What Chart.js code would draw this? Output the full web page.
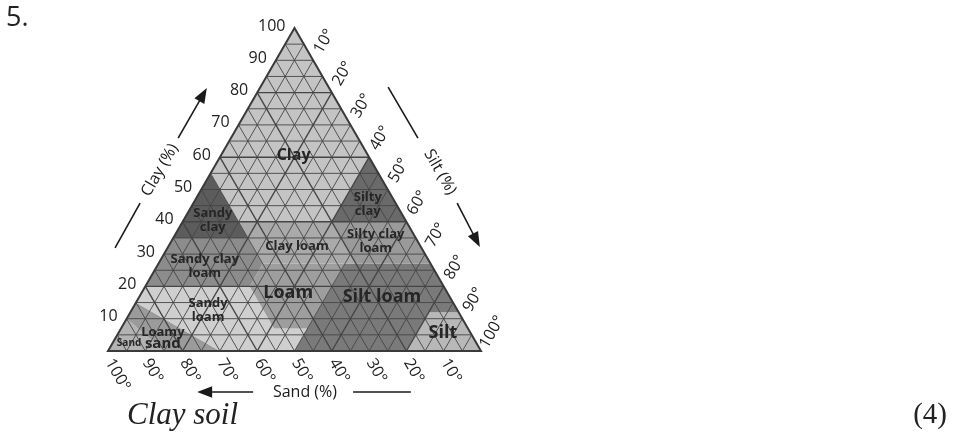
<!DOCTYPE html>
<html>
<head>
<meta charset="utf-8">
<script src="https://cdn.jsdelivr.net/npm/chart.js@4.4.1/dist/chart.umd.min.js"></script>
<style>
  body { margin: 0; background: #fff; }
  #wrap { position: relative; width: 964px; height: 433px; }
  #num { position: absolute; left: 6px; top: 2px; font: 27px/27px "Open Sans", sans-serif; color: #222; }
  #caption { position: absolute; left: 127px; top: 398px; font: italic 31px/31px "Liberation Serif", serif; color: #222; }
  #mark { position: absolute; right: 17px; top: 398px; font: 29px/31px "Liberation Serif", serif; color: #222; }
</style>
</head>
<body>
<div id="wrap">
  <canvas id="soilChart" width="964" height="433"></canvas>
  <div id="num">5.</div>
  <div id="caption">Clay soil</div>
  <div id="mark">(4)</div>
</div>
<script>
// Tick labels on the three sides
const clayTicks = [10, 20, 30, 40, 50, 60, 70, 80, 90, 100];
const siltTicks = [10, 20, 30, 40, 50, 60, 70, 80, 90, 100];
const sandTicks = [100, 90, 80, 70, 60, 50, 40, 30, 20, 10];
const gridSteps = [5, 10, 15, 20, 25, 30, 35, 40, 45, 50, 55, 60, 65, 70, 75, 80, 85, 90, 95];

// Texture classes, corners as [sand, silt, clay] in %
const classNames = ['Clay', 'Sandy clay', 'Silty clay', 'Sandy clay loam', 'Clay loam', 'Silty clay loam',
  'Loam', 'Silt loam', 'Silt', 'Sandy loam', 'Loamy sand', 'Sand'];
const clayArea = [[0, 0, 100], [45, 0, 55], [45, 15, 40], [20, 40, 40], [0, 40, 60]];
const sandyClayArea = [[45, 0, 55], [65, 0, 35], [45, 20, 35]];
const siltyClayArea = [[0, 40, 60], [20, 40, 40], [0, 60, 40]];
const sandyClayLoamArea = [[65, 0, 35], [80, 0, 20], [52, 28, 20], [45, 28, 27], [45, 20, 35]];
const clayLoamArea = [[45, 15, 40], [45, 20, 35], [45, 28, 27], [20, 53, 27], [20, 40, 40]];
const siltyClayLoamArea = [[20, 40, 40], [20, 53, 27], [0, 73, 27], [0, 60, 40]];
const loamArea = [[45, 28, 27], [52, 28, 20], [52, 41, 7], [43, 50, 7], [23, 50, 27]];
const siltLoamArea = [[23, 50, 27], [50, 50, 0], [20, 80, 0], [8, 80, 12], [0, 88, 12], [0, 73, 27]];
const siltArea = [[8, 80, 12], [20, 80, 0], [0, 100, 0], [0, 88, 12]];
const sandyLoamArea = [[80, 0, 20], [85, 0, 15], [70, 30, 0], [50, 50, 0], [43, 50, 7], [52, 41, 7], [52, 28, 20]];
const loamySandArea = [[85, 0, 15], [90, 0, 10], [85, 15, 0], [70, 30, 0]];
const sandArea = [[90, 0, 10], [100, 0, 0], [85, 15, 0]];

const areas = [clayArea, sandyClayArea, siltyClayArea, sandyClayLoamArea, clayLoamArea, siltyClayLoamArea,
  loamArea, siltLoamArea, siltArea, sandyLoamArea, loamySandArea, sandArea];
const areaColors = ['#c4c4c4', '#5c5c5c', '#6a6a6a', '#8c8c8c', '#aaaaaa', '#9a9a9a',
  '#9e9e9e', '#7a7a7a', '#b8b8b8', '#cfcfcf', '#9b9b9b', '#b3b3b3'];

// Label placement (silt %, clay %) and font size
const labelSpots = [[19.5, 60.5], [7.8, 40.6], [46.9, 45.5], [12.8, 26.3], [34.4, 32.5], [54.8, 34],
  [39.3, 18], [65.1, 16.7], [87, 5.6], [20.5, 12.7], [12.7, 4], [4.4, 2.5]];
const labelSizes = [16, 13, 13, 13, 13, 13, 18, 18, 18, 13, 13, 10];

/* --------------------------------------------------------------*/
/* Helpers */
/* --------------------------------------------------------------*/

// ternary -> chart units (x = silt + clay/2, y = clay)
const toXY = (silt, clay) => ({ x: silt + clay / 2, y: clay });

const datasets = areas.map((area, i) => {
  const pts = area.map(c => toXY(c[1], c[2]));
  pts.push(pts[0]);
  return {
    label: classNames[i],
    data: pts,
    showLine: true,
    fill: 'shape',
    backgroundColor: areaColors[i],
    borderWidth: 0,
    borderColor: 'rgba(0,0,0,0)',
    pointRadius: 0,
    clip: false
  };
});

const arrow = (ctx, x1, y1, x2, y2, head) => {
  const a = Math.atan2(y2 - y1, x2 - x1);
  ctx.beginPath();
  ctx.moveTo(x1, y1);
  ctx.lineTo(x2 - Math.cos(a) * head * 0.6, y2 - Math.sin(a) * head * 0.6);
  ctx.stroke();
  ctx.beginPath();
  ctx.moveTo(x2, y2);
  ctx.lineTo(x2 - Math.cos(a) * head + Math.sin(a) * head * 0.38, y2 - Math.sin(a) * head - Math.cos(a) * head * 0.38);
  ctx.lineTo(x2 - Math.cos(a) * head - Math.sin(a) * head * 0.38, y2 - Math.sin(a) * head + Math.cos(a) * head * 0.38);
  ctx.closePath();
  ctx.fill();
};

// Grid, frame, labels and axis titles
const triangleDecor = {
  id: 'triangleDecor',
  afterDatasetsDraw(chart) {
    const { ctx, scales: { x, y } } = chart;
    const P = (silt, clay) => [x.getPixelForValue(silt + clay / 2), y.getPixelForValue(clay)];
    const U = (ux, uy) => [x.getPixelForValue(ux), y.getPixelForValue(uy)];
    const seg = (a, b) => { ctx.beginPath(); ctx.moveTo(a[0], a[1]); ctx.lineTo(b[0], b[1]); ctx.stroke(); };

    ctx.save();
    ctx.strokeStyle = '#454545';
    gridSteps.forEach(v => {
      ctx.lineWidth = v % 20 === 0 ? 1.4 : 0.9;
      seg(P(0, v), P(100 - v, v));        // clay constant
      seg(P(v, 0), P(v, 100 - v));        // silt constant
      seg(P(100 - v, 0), P(0, 100 - v));  // sand constant
    });

    ctx.lineWidth = 2;
    ctx.strokeStyle = '#3a3a3a';
    ctx.beginPath();
    const a = P(0, 0), b = P(100, 0), c = P(0, 100);
    ctx.moveTo(a[0], a[1]); ctx.lineTo(b[0], b[1]); ctx.lineTo(c[0], c[1]); ctx.closePath();
    ctx.stroke();

    // class names
    ctx.fillStyle = '#262626';
    ctx.textAlign = 'center';
    ctx.textBaseline = 'middle';
    classNames.forEach((name, i) => {
      const [px, py] = P(labelSpots[i][0], labelSpots[i][1]);
      const size = labelSizes[i];
      ctx.font = `bold ${size}px "Open Sans", "DejaVu Sans", sans-serif`;
      let lines = [name];
      if (name === 'Sandy clay' || name === 'Silty clay' || name === 'Sandy loam') lines = name.split(' ');
      if (name === 'Sandy clay loam') lines = ['Sandy clay', 'loam'];
      if (name === 'Silty clay loam') lines = ['Silty clay', 'loam'];
      if (name === 'Loamy sand') {
        ctx.font = `bold 13px "Open Sans", "DejaVu Sans", sans-serif`;
        ctx.fillText('Loamy', px, py - 6);
        ctx.font = `bold 15px "Open Sans", "DejaVu Sans", sans-serif`;
        ctx.fillText('sand', px, py + 6);
        return;
      }
      const lh = size + 1;
      lines.forEach((t, k) => ctx.fillText(t, px, py + (k - (lines.length - 1) / 2) * lh));
    });

    // tick labels
    ctx.fillStyle = '#222';
    ctx.font = '16px "Open Sans", sans-serif';
    ctx.textAlign = 'right';
    clayTicks.forEach(v => {
      const [px, py] = P(0, v);
      ctx.fillText(String(v), px - 9, py - 2);
    });
    ctx.textAlign = 'center';
    siltTicks.forEach(v => {
      const [px, py] = P(v, 100 - v);
      ctx.save();
      ctx.translate(px + 11, py - 19);
      ctx.rotate(-Math.PI / 3);
      ctx.fillText(v + '°', 0, 0);
      ctx.restore();
    });
    ctx.textAlign = 'left';
    sandTicks.forEach(v => {
      const [px, py] = P(100 - v, 0);
      ctx.save();
      ctx.translate(px + 1, py + 9);
      ctx.rotate(Math.PI / 3);
      ctx.fillText(v + '°', 0, 0);
      ctx.restore();
    });

    // axis titles and arrows
    ctx.font = '16px "Open Sans", sans-serif';
    ctx.textAlign = 'center';
    ctx.strokeStyle = '#1a1a1a';
    ctx.fillStyle = '#1a1a1a';
    ctx.lineWidth = 1.6;

    let t = U(13.9, 56);
    ctx.save(); ctx.translate(t[0], t[1]); ctx.rotate(-Math.PI / 3); ctx.fillText('Clay (%)', 0, 0); ctx.restore();
    let p1 = U(18.8, 65.9), p2 = U(26.5, 81.4);
    arrow(ctx, p1[0], p1[1], p2[0], p2[1], 15);
    p1 = U(8.6, 45.8); p2 = U(1.9, 31.9);
    seg(p1, p2);

    t = U(89, 55.4);
    ctx.save(); ctx.translate(t[0], t[1]); ctx.rotate(Math.PI / 3); ctx.fillText('Silt (%)', 0, 0); ctx.restore();
    p1 = U(75.1, 81.7); p2 = U(83.1, 65.9);
    seg(p1, p2);
    p1 = U(93.6, 45.8); p2 = U(99.7, 32.2);
    arrow(ctx, p1[0], p1[1], p2[0], p2[1], 15);

    t = U(52.8, -12.7);
    ctx.fillText('Sand (%)', t[0], t[1]);
    p1 = U(38.9, -12.7); p2 = U(23.9, -12.7);
    arrow(ctx, p1[0], p1[1], p2[0], p2[1], 15);
    seg(U(65.7, -12.7), U(81.2, -12.7));

    ctx.restore();
  }
};

const ctx = document.querySelector('#soilChart');

const soilChart = new Chart(ctx, {
  type: 'scatter',
  data: { datasets: datasets },
  options: {
    responsive: false,
    animation: false,
    devicePixelRatio: 1,
    layout: { padding: { left: 108, right: 483, top: 28, bottom: 82 } },
    scales: {
      x: { type: 'linear', min: 0, max: 100, display: false },
      y: { type: 'linear', min: 0, max: 100, display: false }
    },
    plugins: {
      legend: { display: false },
      tooltip: { enabled: false }
    }
  },
  plugins: [triangleDecor]
});
</script>
</body>
</html>
